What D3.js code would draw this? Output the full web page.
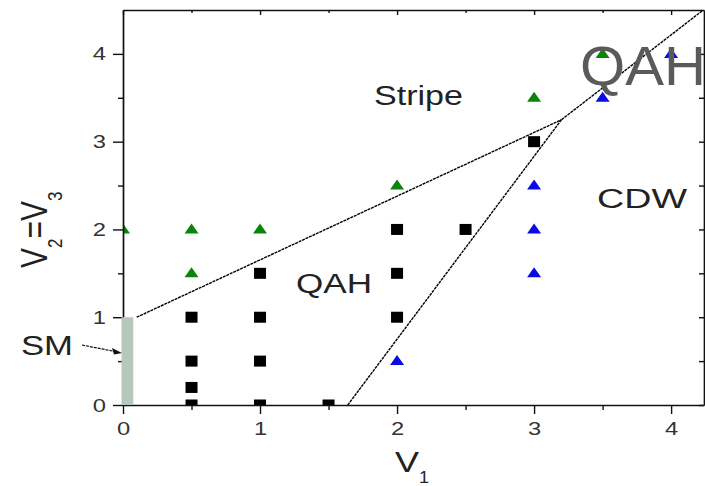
<!DOCTYPE html>
<html>
<head>
<meta charset="utf-8">
<script src="https://cdn.jsdelivr.net/npm/d3@7"></script>
<style>
  html, body { margin: 0; padding: 0; background: #fff; }
  svg { display: block; }
  text { font-family: "Liberation Sans", Arial, sans-serif; }
</style>
</head>
<body>
<svg id="chart" width="705" height="486"></svg>
<script>
// ---- phase diagram data (V1 on x, V2 = V3 on y) ----
// QAH phase points (black squares)
const qahV1 = [0.5, 0.5, 0.5, 0.5, 1, 1, 1, 1, 1.5, 2, 2, 2, 2.5, 3];
const qahV2 = [1, 0.5, 0.2, 0, 1.5, 1, 0.5, 0, 0, 2, 1.5, 1, 2, 3];
// Stripe phase points (green triangles)
const stripeV1 = [0, 0.5, 1, 0.5, 2, 3, 3.5];
const stripeV2 = [2, 2, 2, 1.5, 2.5, 3.5, 4];
// CDW phase points (blue triangles)
const cdwV1 = [2, 3, 3, 3, 3.5, 4];
const cdwV2 = [0.5, 1.5, 2, 2.5, 3.5, 4];
// phase boundaries, all meeting at the triple point
const boundaryStripeQAH = [[0.1, 1.0], [3.2, 3.25]];
const boundaryQAHCDW = [[1.64, 0], [3.2, 3.25]];
const boundaryStripeCDW = [[3.2, 3.25], [4.4, 4.7]];
// semimetal strip along the V2 axis
const smV1 = [0, 0.075];
const smV2 = [0, 1];
// axis ticks
const xMajor = [0, 1, 2, 3, 4];
const xMinor = [0.5, 1.5, 2.5, 3.5];
const yMajor = [0, 1, 2, 3, 4];
const yMinor = [0.5, 1.5, 2.5, 3.5];

const svg = d3.select("#chart");
const x = d3.scaleLinear().domain([0, 4.24]).range([123, 704]);
const y = d3.scaleLinear().domain([0, 4.5]).range([405, 10]);

const INK = "#111";
const SX = 1.25; // horizontal widening of the glyphs

svg.append("defs").append("clipPath").attr("id", "plotClip")
  .append("rect")
  .attr("x", x(0)).attr("y", y(4.5))
  .attr("width", x(4.24) - x(0)).attr("height", y(0) - y(4.5));

const plot = svg.append("g").attr("clip-path", "url(#plotClip)");

// phase boundaries
const line = d3.line().x(d => x(d[0])).y(d => y(d[1]));
[boundaryStripeQAH, boundaryQAHCDW, boundaryStripeCDW].forEach(b => {
  plot.append("path").attr("d", line(b))
    .attr("fill", "none").attr("stroke", "#000")
    .attr("stroke-width", 1.4).attr("stroke-dasharray", "3,0.8");
});

// QAH squares
plot.append("g").selectAll("rect").data(d3.range(qahV1.length)).join("rect")
  .attr("x", i => x(qahV1[i]) - 6).attr("y", i => y(qahV2[i]) - 5.5)
  .attr("width", 12).attr("height", 11).attr("fill", "#000");

// triangles
const tri = (cx, cy) => `M${cx},${cy - 6}L${cx + 7},${cy + 4}L${cx - 7},${cy + 4}Z`;
plot.append("g").selectAll("path").data(d3.range(stripeV1.length)).join("path")
  .attr("d", i => tri(x(stripeV1[i]), y(stripeV2[i]))).attr("fill", "#0a850a");
plot.append("g").selectAll("path").data(d3.range(cdwV1.length)).join("path")
  .attr("d", i => tri(x(cdwV1[i]), y(cdwV2[i]))).attr("fill", "#0a0ae6");

// ---- axes ----
function styleAxis(g) {
  g.selectAll("path.domain").attr("stroke", INK).attr("stroke-width", 1.7);
  g.selectAll(".tick line").attr("stroke", INK).attr("stroke-width", 1.4);
}
// bottom
const gB = svg.append("g").attr("transform", `translate(0,${y(0)})`)
  .call(d3.axisBottom(x).tickValues(xMajor).tickSize(9).tickSizeOuter(0)
    .tickPadding(8).tickFormat(d3.format("d")));
styleAxis(gB);
gB.selectAll("text").attr("font-size", 19).attr("fill", "#333")
  .attr("font-family", "Liberation Sans, Arial, sans-serif")
  .attr("transform", `scale(${SX},1)`);
const gBm = svg.append("g").attr("transform", `translate(0,${y(0)})`)
  .call(d3.axisBottom(x).tickValues(xMinor).tickSize(5).tickFormat(""));
gBm.select("path.domain").remove(); styleAxis(gBm);

// left
const gL = svg.append("g").attr("transform", `translate(${x(0)},0)`)
  .call(d3.axisLeft(y).tickValues(yMajor).tickSize(10).tickSizeOuter(0)
    .tickFormat(d3.format("d")));
styleAxis(gL);
gL.selectAll("text").attr("font-size", 19).attr("fill", "#333")
  .attr("font-family", "Liberation Sans, Arial, sans-serif")
  .attr("x", -17 / SX).attr("transform", `scale(${SX},1)`);
const gLm = svg.append("g").attr("transform", `translate(${x(0)},0)`)
  .call(d3.axisLeft(y).tickValues(yMinor).tickSize(5).tickFormat(""));
gLm.select("path.domain").remove(); styleAxis(gLm);

// top (inward ticks)
const gT = svg.append("g").attr("transform", `translate(0,${y(4.5)})`)
  .call(d3.axisTop(x).tickValues(xMajor).tickSize(-5).tickSizeOuter(0).tickFormat(""));
styleAxis(gT);
const gTm = svg.append("g").attr("transform", `translate(0,${y(4.5)})`)
  .call(d3.axisTop(x).tickValues(xMinor).tickSize(-3).tickFormat(""));
gTm.select("path.domain").remove(); styleAxis(gTm);

// right (inward ticks)
const gR = svg.append("g").attr("transform", `translate(${x(4.24)},0)`)
  .call(d3.axisRight(y).tickValues(yMajor.concat(yMinor)).tickSize(-5).tickSizeOuter(0).tickFormat(""));
styleAxis(gR);

// semimetal strip on top of the V2 axis
svg.append("rect")
  .attr("x", x(smV1[0]) - 1.5).attr("y", y(smV2[1]))
  .attr("width", x(smV1[1]) - x(smV1[0]) + 1.5).attr("height", y(smV2[0]) - y(smV2[1]))
  .attr("fill", "#b5c9b9");

// ---- labels ----
const label = (txt, px, py, size, len, fill) =>
  svg.append("text").attr("x", px).attr("y", py).attr("font-size", size)
    .attr("fill", fill || "#222")
    .attr("textLength", len).attr("lengthAdjust", "spacingAndGlyphs").text(txt);

label("Stripe", 374, 105, 27, 89);
label("QAH", 296, 293, 27, 76);
label("CDW", 597, 208, 27, 90);
label("SM", 21, 355, 28, 52);
label("QAH", 580, 85, 56, 126, "#5a5a5a");

// SM pointer
const ax0 = 82, ay0 = 345, ax1 = x(0) - 1, ay1 = 353;
svg.append("line").attr("x1", ax0).attr("y1", ay0).attr("x2", ax1 - 6).attr("y2", ay1 - 1.3)
  .attr("stroke", INK).attr("stroke-width", 1.2).attr("stroke-dasharray", "3,1");
svg.append("path")
  .attr("d", `M${ax1},${ay1}L${ax1 - 10},${ay1 - 5}L${ax1 - 8},${ay1 + 1.5}Z`)
  .attr("fill", INK);

// x axis title: V1
label("V", 395, 472, 29, 24);
label("1", 419, 483, 16, 10);

// y axis title: V2=V3 (rotated)
const yt = svg.append("text")
  .attr("transform", "translate(47,268) rotate(-90) scale(1,1.2)")
  .attr("fill", "#222").attr("font-size", 30);
yt.append("tspan").text("V");
yt.append("tspan").attr("font-size", 17).attr("dy", 12.5).text("2");
yt.append("tspan").attr("dy", -12.5).text("=");
yt.append("tspan").text("V");
yt.append("tspan").attr("font-size", 17).attr("dy", 12.5).text("3");
</script>
</body>
</html>
